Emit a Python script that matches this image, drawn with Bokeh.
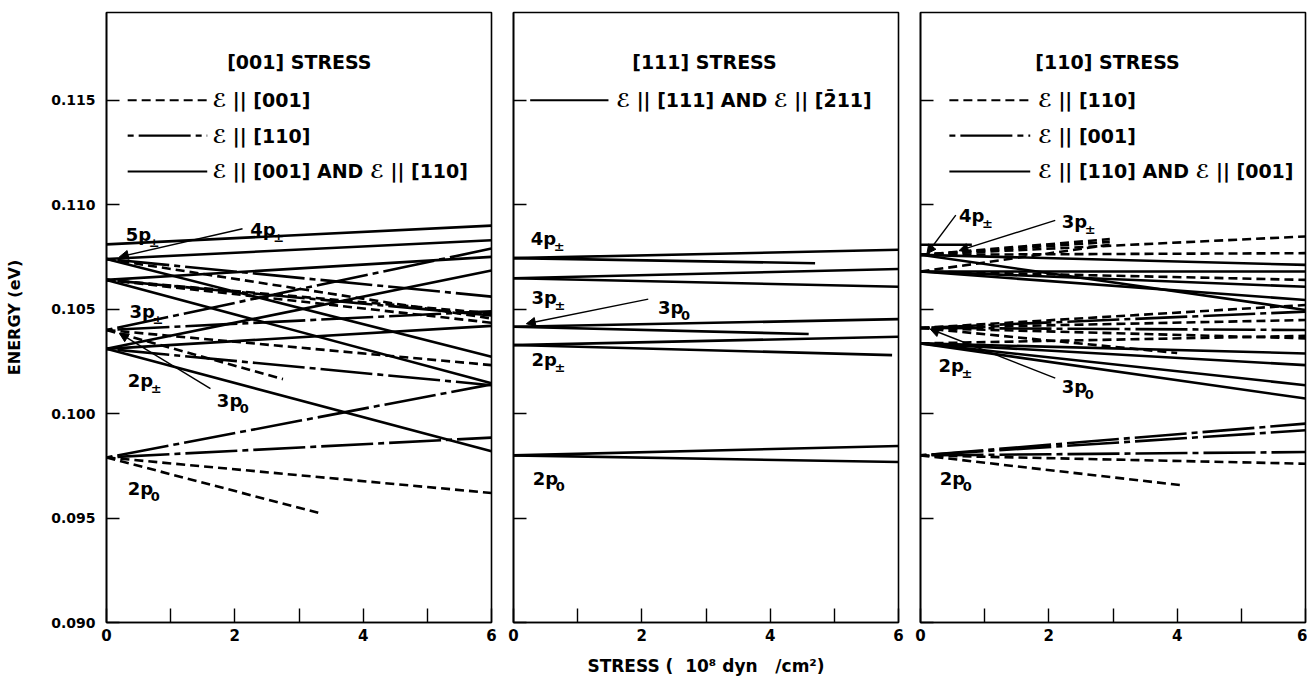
from bokeh.plotting import figure
from bokeh.layouts import row
from bokeh.models import ColumnDataSource, FixedTicker, Arrow, NormalHead, Range1d
from bokeh.core.properties import value
from bokeh.embed import file_html
from bokeh.resources import INLINE

FONT = "DejaVu Sans"

# ---------------- axes ----------------
X_TICKS = [0, 1, 2, 3, 4, 5, 6]
X_TICK_LABELS = ["0", "", "2", "", "4", "", "6"]
Y_TICKS = [0.090, 0.095, 0.100, 0.105, 0.110, 0.115]
Y_TICK_LABELS = ["0.090", "0.095", "0.100", "0.105", "0.110", "0.115"]
Y_MIN, Y_MAX = 0.090, 0.1192
X_MIN, X_MAX = 0, 6

# ---------------- [001] stress ----------------
# lines start at zero stress (energy A_E0) and run to stress A_X1 (energy A_E1)
# polarisation code: "a" = first legend entry, "b" = second, "c" = both
A_E0 = [0.1081, 0.1074, 0.1040, 0.1064, 0.1031, 0.1074, 0.1040, 0.1064, 0.1074, 0.1064,
        0.1064, 0.1031, 0.1040, 0.1074, 0.1040, 0.1031, 0.1064, 0.0979, 0.0979, 0.1031,
        0.0979, 0.0979]
A_X1 = [6, 6, 6, 6, 6, 6, 6, 6, 6, 6,
        6, 6, 6, 6, 2.75, 6, 6, 6, 6, 6,
        6, 3.3]
A_E1 = [0.1090, 0.1083, 0.1079, 0.1075, 0.10685, 0.1056, 0.1049, 0.1048, 0.10455, 0.10435,
        0.1047, 0.1042, 0.10232, 0.10272, 0.10165, 0.10136, 0.10145, 0.1014, 0.09885, 0.0982,
        0.0962, 0.09525]
A_POL = ["c", "c", "b", "c", "c", "b", "b", "a", "a", "a",
         "b", "c", "a", "c", "a", "b", "c", "b", "b", "c",
         "a", "a"]
A_LBL = ["5p", "4p", "3p", "2p", "3p", "2p"]
A_SUB = ["\u00b1", "\u00b1", "\u00b1", "\u00b1", "0", "0"]
A_LX = [0.30, 2.24, 0.36, 0.33, 1.72, 0.33]
A_LE = [0.10856, 0.10880, 0.10490, 0.10160, 0.10064, 0.09640]
A_ARR = dict(xs=[2.12, 1.62], es=[0.10885, 0.10120], xe=[0.20, 0.20], ee=[0.10750, 0.10385])

# ---------------- [111] stress ----------------
B_E0 = [0.10744, 0.10744, 0.10648, 0.10648, 0.10416, 0.10416, 0.10328, 0.10328, 0.0980, 0.0980]
B_X1 = [6, 4.7, 6, 6, 6, 4.6, 6, 5.9, 6, 6]
B_E1 = [0.10784, 0.10720, 0.10692, 0.10607, 0.10452, 0.10381, 0.10368, 0.10280, 0.09845, 0.09768]
B_POL = ["c"] * 10
B_LBL = ["4p", "3p", "3p", "2p", "2p"]
B_SUB = ["\u00b1", "\u00b1", "0", "\u00b1", "0"]
B_LX = [0.27, 0.28, 2.25, 0.28, 0.30]
B_LE = [0.10840, 0.10557, 0.10510, 0.10260, 0.09690]
B_ARR = dict(xs=[2.10], es=[0.10548], xe=[0.20], ee=[0.10430])

# ---------------- [110] stress ----------------
C_E0 = [0.10808, 0.1076, 0.1076, 0.1076, 0.1068, 0.1076, 0.1076, 0.1068, 0.1068, 0.1068,
        0.1068, 0.1076, 0.1041, 0.1041, 0.1041, 0.1041, 0.1041, 0.1041, 0.10336, 0.10336,
        0.10336, 0.10336, 0.10336, 0.0980, 0.0980, 0.0980, 0.0980, 0.0980]
C_X1 = [0.8, 6, 2.95, 2.95, 2.95, 6, 6, 6, 6, 6,
        6, 6, 6, 6, 6, 6, 6, 4.0, 6, 6,
        6, 6, 6, 6, 6, 6, 6, 4.1]
C_E1 = [0.10808, 0.10848, 0.10835, 0.10822, 0.10808, 0.10768, 0.10712, 0.10680, 0.10640, 0.10607,
        0.10544, 0.10496, 0.10520, 0.10488, 0.10448, 0.10400, 0.10360, 0.10290, 0.10372, 0.10288,
        0.10232, 0.10136, 0.10072, 0.09952, 0.09920, 0.09816, 0.09760, 0.09656]
C_POL = ["c", "a", "a", "a", "a", "a", "c", "c", "a", "c",
         "c", "c", "a", "b", "a", "b", "a", "a", "a", "c",
         "c", "c", "c", "b", "b", "b", "a", "a"]
C_LBL = ["4p", "3p", "2p", "3p", "2p"]
C_SUB = ["\u00b1", "\u00b1", "\u00b1", "0", "0"]
C_LX = [0.60, 2.20, 0.28, 2.20, 0.30]
C_LE = [0.10947, 0.10920, 0.10232, 0.10130, 0.09690]
C_ARR = dict(xs=[0.55, 2.10, 2.10], es=[0.10950, 0.10925, 0.10170],
             xe=[0.10, 0.60, 0.15], ee=[0.10765, 0.10780, 0.10405])

# legend texts
A_TITLE = "[001] STRESS"
A_LEG = ["\u2130 || [001]", "\u2130 || [110]", "\u2130 || [001] AND \u2130 || [110]"]
B_TITLE = "[111] STRESS"
B_LEG = ["\u2130 || [111] AND \u2130 || [2\u030411]"]
C_TITLE = "[110] STRESS"
C_LEG = ["\u2130 || [110]", "\u2130 || [001]", "\u2130 || [110] AND \u2130 || [001]"]
X_TITLE = "STRESS (\u00a0\u00a010\u2078 dyn\u00a0\u00a0\u00a0/cm\u00b2)"

DASH = {"a": "9 5", "b": "6 5 52 5", "c": "solid"}
LEG_ROWS_E = [0.1150, 0.11331, 0.11159]
TITLE_E = 0.11681

FRAME_W, FRAME_H = 385, 610


def make_panel(e0, x1, e1, pol, lbl, sub, lx, le, arr, title, leg, leg_codes,
               sample_x, text_x, title_x, first=False, last=False, xlabel=None):
    p = figure(frame_width=FRAME_W, frame_height=FRAME_H,
               x_range=Range1d(X_MIN, X_MAX), y_range=Range1d(Y_MIN, Y_MAX),
               output_backend="svg", toolbar_location=None,
               min_border_left=106 if first else 11,
               min_border_right=2 if last else 11,
               min_border_top=12, min_border_bottom=60,
               background_fill_color="white", border_fill_color="white")
    p.grid.visible = False
    p.outline_line_color = "black"
    p.outline_line_width = 1.6

    # axes
    p.xaxis.ticker = FixedTicker(ticks=X_TICKS)
    p.xaxis.major_label_overrides = {t: l for t, l in zip(X_TICKS, X_TICK_LABELS)}
    p.xaxis.major_tick_in = 14
    p.xaxis.major_tick_out = 0
    p.xaxis.minor_tick_line_color = None
    p.xaxis.major_tick_line_width = 1.4
    p.xaxis.axis_line_width = 1.6
    p.xaxis.major_label_text_font = FONT
    p.xaxis.major_label_text_font_style = "bold"
    p.xaxis.major_label_text_font_size = "15px"
    p.xaxis.major_label_text_color = "black"
    p.xaxis.major_label_standoff = 6
    if xlabel:
        p.xaxis.axis_label = xlabel
        p.xaxis.axis_label_text_font = FONT
        p.xaxis.axis_label_text_font_style = "bold"
        p.xaxis.axis_label_text_font_size = "17px"
        p.xaxis.axis_label_text_color = "black"
        p.xaxis.axis_label_standoff = 12

    p.yaxis.ticker = FixedTicker(ticks=Y_TICKS)
    p.yaxis.major_tick_in = 13
    p.yaxis.major_tick_out = 0
    p.yaxis.minor_tick_line_color = None
    p.yaxis.major_tick_line_width = 1.4
    p.yaxis.axis_line_width = 1.6
    if first:
        p.yaxis.major_label_overrides = {t: l for t, l in zip(Y_TICKS, Y_TICK_LABELS)}
        p.yaxis.major_label_text_font = FONT
        p.yaxis.major_label_text_font_style = "bold"
        p.yaxis.major_label_text_font_size = "14px"
        p.yaxis.major_label_text_color = "black"
        p.yaxis.major_label_standoff = 11
        p.yaxis.axis_label = "ENERGY (eV)"
        p.yaxis.axis_label_text_font = FONT
        p.yaxis.axis_label_text_font_style = "bold"
        p.yaxis.axis_label_text_font_size = "16px"
        p.yaxis.axis_label_text_color = "black"
        p.yaxis.axis_label_standoff = 24
    else:
        p.yaxis.major_label_overrides = {t: "" for t in Y_TICKS}
        p.yaxis.major_label_standoff = 0
        p.yaxis.major_label_text_font_size = "1px"

    # data lines
    for code in ["a", "b", "c"]:
        idx = [i for i, c in enumerate(pol) if c == code]
        if not idx:
            continue
        src = ColumnDataSource(dict(x0=[0.0] * len(idx), y0=[e0[i] for i in idx],
                                    x1=[x1[i] for i in idx], y1=[e1[i] for i in idx]))
        p.segment(x0="x0", y0="y0", x1="x1", y1="y1", source=src, line_color="black",
                  line_width=2.6, line_dash=DASH[code], line_cap="butt")

    # level labels
    lsrc = ColumnDataSource(dict(x=lx, y=le, t=lbl, s=sub))
    p.text(x="x", y="y", text="t", source=lsrc, text_font=value(FONT), text_font_style="bold",
           text_font_size="18px", text_baseline="middle", text_align="left", text_color="black")
    p.text(x="x", y="y", text="s", source=lsrc, text_font=value(FONT), text_font_style="bold",
           text_font_size="13px", text_baseline="middle", text_align="left", text_color="black",
           x_offset=23, y_offset=8)

    # leaders / arrows
    asrc = ColumnDataSource(dict(xs=arr["xs"], ys=arr["es"], xe=arr["xe"], ye=arr["ee"]))
    p.add_layout(Arrow(source=asrc, x_start="xs", y_start="ys", x_end="xe", y_end="ye",
                       line_width=1.4, line_color="black",
                       end=NormalHead(size=9, fill_color="black", line_color="black")))

    # legend block
    p.text(x=[title_x], y=[TITLE_E], text=[title], text_font=value(FONT), text_font_style="bold",
           text_font_size="19px", text_baseline="middle", text_align="left")
    for k, (txt, code) in enumerate(zip(leg, leg_codes)):
        ey = LEG_ROWS_E[k]
        p.segment(x0=[sample_x[0]], y0=[ey], x1=[sample_x[1]], y1=[ey], line_color="black",
                  line_width=2.2, line_dash=DASH[code], line_cap="butt")
        p.text(x=[text_x], y=[ey], text=[txt], text_font=value(FONT), text_font_style="bold",
               text_font_size="19px", text_baseline="middle", text_align="left")
    return p


pA = make_panel(A_E0, A_X1, A_E1, A_POL, A_LBL, A_SUB, A_LX, A_LE, A_ARR,
                A_TITLE, A_LEG, ["a", "b", "c"], (0.33, 1.57), 1.65, 1.88, first=True)
pB = make_panel(B_E0, B_X1, B_E1, B_POL, B_LBL, B_SUB, B_LX, B_LE, B_ARR,
                B_TITLE, B_LEG, ["c"], (0.26, 1.48), 1.60, 1.85, xlabel=X_TITLE)
pC = make_panel(C_E0, C_X1, C_E1, C_POL, C_LBL, C_SUB, C_LX, C_LE, C_ARR,
                C_TITLE, C_LEG, ["a", "b", "c"], (0.45, 1.71), 1.83, 1.79, last=True)

layout = row(pA, pB, pC)
open("out.html", "w").write(file_html(layout, INLINE))
